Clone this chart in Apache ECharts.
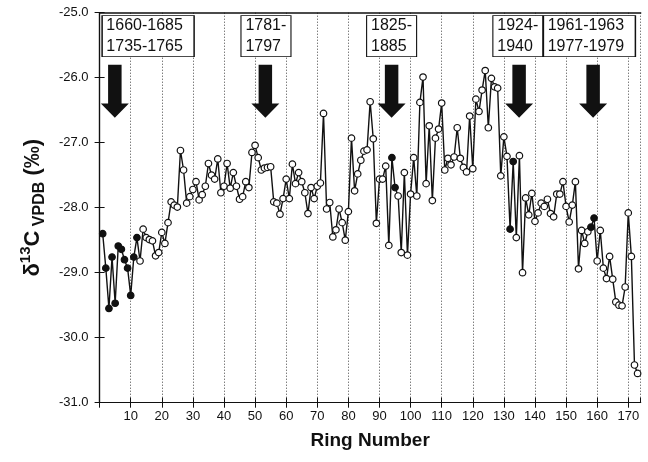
<!DOCTYPE html>
<html>
<head>
<meta charset="utf-8">
<script src="https://cdn.jsdelivr.net/npm/echarts@6/dist/echarts.min.js"></script>
<style>
  html, body { margin: 0; padding: 0; background: #fff; }
  #main { width: 648px; height: 462px; }
</style>
</head>
<body>
<div id="main"></div>
<script>
  // delta 13C per ring, ring 1 .. 173
  const d13c = [
    -28.40, -28.93, -29.55, -28.76, -29.47, -28.59, -28.64, -28.80, -28.93, -29.35,
    -28.76, -28.46, -28.82, -28.33, -28.46, -28.49, -28.51, -28.74, -28.69, -28.38,
    -28.55, -28.23, -27.91, -27.96, -27.99, -27.12, -27.42, -27.93, -27.83, -27.72,
    -27.60, -27.88, -27.80, -27.67, -27.32, -27.50, -27.56, -27.25, -27.77, -27.67,
    -27.32, -27.70, -27.46, -27.67, -27.87, -27.83, -27.60, -27.69, -27.15, -27.04,
    -27.23, -27.42, -27.39, -27.38, -27.37, -27.91, -27.93, -28.10, -27.86, -27.56,
    -27.86, -27.33, -27.63, -27.46, -27.60, -27.77, -28.09, -27.69, -27.86, -27.67,
    -27.62, -26.55, -28.02, -27.92, -28.45, -28.34, -28.02, -28.23, -28.50, -28.06,
    -26.93, -27.74, -27.48, -27.27, -27.13, -27.11, -26.37, -26.94, -28.24, -27.56,
    -27.56, -27.36, -28.58, -27.23, -27.69, -27.82, -28.69, -27.46, -28.73, -27.79,
    -27.23, -27.82, -26.38, -25.99, -27.63, -26.74, -27.89, -26.93, -26.79, -26.39,
    -27.42, -27.24, -27.34, -27.22, -26.77, -27.24, -27.38, -27.45, -26.59, -27.40,
    -26.33, -26.52, -26.19, -25.89, -26.77, -26.01, -26.14, -26.16, -27.51, -26.91,
    -27.21, -28.33, -27.29, -28.46, -27.20, -29.00, -27.85, -28.11, -27.78, -28.21,
    -28.08, -27.93, -27.98, -27.87, -28.09, -28.14, -27.79, -27.79, -27.60, -27.98,
    -28.22, -27.96, -27.60, -28.94, -28.35, -28.55, -28.37, -28.30, -28.16, -28.82,
    -28.35, -28.93, -29.09, -28.75, -29.10, -29.45, -29.50, -29.51, -29.22, -28.08,
    -28.75, -30.42, -30.55
  ];
  // rings drawn with solid markers
  const filledRings = [1, 2, 3, 4, 5, 6, 7, 8, 9, 10, 11, 12, 94, 95, 132, 133, 158, 159];

  // periods marked at the top
  const periodLabels = ['1660-1685\n1735-1765', '1781-\n1797', '1825-\n1885', '1924-\n1940', '1961-1963\n1977-1979'];
  const periodLabelRings = [15.6, 53.5, 93.9, 134.5, 157.5];
  const arrowRings = [4.9, 53.3, 93.9, 134.9, 158.7];

  const FONT = 'Liberation Sans, Arial, sans-serif';
  const INK = '#111';

  let chart = echarts.init(document.getElementById('main'));

  let lineData = d13c.map((v, i) => {
    let ring = i + 1;
    let item = { value: [ring, v] };
    if (filledRings.indexOf(ring) >= 0) {
      item.itemStyle = { color: INK, borderColor: INK };
    }
    return item;
  });

  let boxes = periodLabels.map((t, i) => {
    let wide = t.split('\n')[0].length > 5;
    return {
      coord: [periodLabelRings[i], -25.36],
      symbol: 'rect',
      symbolSize: [wide ? 92 : 50, 41],
      itemStyle: { color: '#fff', borderColor: INK, borderWidth: 1 },
      label: {
        show: true,
        formatter: t,
        position: [5, 0],
        align: 'left',
        verticalAlign: 'top',
        fontSize: 16,
        lineHeight: 21,
        color: INK,
        fontFamily: FONT
      }
    };
  });

  let arrows = arrowRings.map(r => ({
    coord: [r, -26.21],
    symbol: 'path://M7,0L20,0L20,38L27,38L13.5,52L0,38L7,38Z',
    symbolSize: [28, 53],
    symbolKeepAspect: false,
    itemStyle: { color: INK },
    label: { show: false }
  }));

  let xBase = { type: 'value', min: 0, max: 174, interval: 10 };
  let yBase = { type: 'value', min: -31, max: -25, interval: 1 };

  let option = {
    animation: false,
    backgroundColor: '#fff',
    grid: { left: 99.6, right: 7.3, top: 12.7, bottom: 59.3 },
    xAxis: [
      Object.assign({}, xBase, {
        position: 'bottom',
        name: 'Ring Number',
        nameLocation: 'middle',
        nameGap: 29,
        nameTextStyle: { fontSize: 19, fontWeight: 'bold', color: INK, fontFamily: FONT },
        axisLine: { show: true, lineStyle: { color: INK, width: 1.2 } },
        axisTick: { show: true, length: 5, lineStyle: { color: INK } },
        axisLabel: {
          show: true, margin: 7, fontSize: 13, color: INK, fontFamily: FONT,
          showMaxLabel: false,
          formatter: v => (v === 0 ? '' : String(v))
        },
        splitLine: { show: true, lineStyle: { color: '#444', type: [1, 2], width: 1 } }
      }),
      Object.assign({}, xBase, {
        position: 'bottom',
        axisLine: { show: false },
        axisTick: { show: true, inside: true, length: 5, lineStyle: { color: INK } },
        axisLabel: { show: false },
        splitLine: { show: false }
      }),
      Object.assign({}, xBase, {
        position: 'top',
        axisLine: { show: true, lineStyle: { color: INK, width: 1.5 } },
        axisTick: { show: false },
        axisLabel: { show: false },
        splitLine: { show: false }
      })
    ],
    yAxis: [
      Object.assign({}, yBase, {
        position: 'left',
        name: '{m|δ}{sup|13}{m|C}{sub| VPDB}{m| (‰)}',
        nameLocation: 'middle',
        nameGap: 44,
        nameRotate: 90,
        nameTextStyle: {
          rich: {
            m: { fontSize: 22, fontWeight: 'bold', color: INK, fontFamily: FONT, lineHeight: 30 },
            sup: { fontSize: 15, fontWeight: 'bold', color: INK, fontFamily: FONT, verticalAlign: 'top', lineHeight: 17 },
            sub: { fontSize: 16, fontWeight: 'bold', color: INK, fontFamily: FONT, verticalAlign: 'bottom', lineHeight: 19 }
          }
        },
        axisLine: { show: true, lineStyle: { color: INK, width: 1.2 } },
        axisTick: { show: true, length: 5, lineStyle: { color: INK } },
        axisLabel: {
          show: true, margin: 11, fontSize: 13, color: INK, fontFamily: FONT,
          formatter: v => v.toFixed(1)
        },
        splitLine: { show: false }
      }),
      Object.assign({}, yBase, {
        position: 'left',
        axisLine: { show: false },
        axisTick: { show: true, inside: true, length: 5, lineStyle: { color: INK } },
        axisLabel: { show: false },
        splitLine: { show: false }
      }),
      Object.assign({}, yBase, {
        position: 'right',
        axisLine: { show: true, lineStyle: { color: INK, width: 1.2 } },
        axisTick: { show: false },
        axisLabel: { show: false },
        splitLine: { show: false }
      })
    ],
    series: [
      {
        type: 'line',
        xAxisIndex: 0,
        yAxisIndex: 0,
        data: lineData,
        symbol: 'circle',
        symbolSize: 6.5,
        showAllSymbol: true,
        lineStyle: { color: INK, width: 1.4 },
        itemStyle: { color: '#fff', borderColor: INK, borderWidth: 1.2 },
        z: 3
      },
      {
        type: 'line',
        xAxisIndex: 0,
        yAxisIndex: 0,
        data: [],
        z: 4,
        markPoint: {
          silent: true,
          data: boxes.concat(arrows)
        }
      }
    ]
  };
  chart.setOption(option);
</script>
</body>
</html>
